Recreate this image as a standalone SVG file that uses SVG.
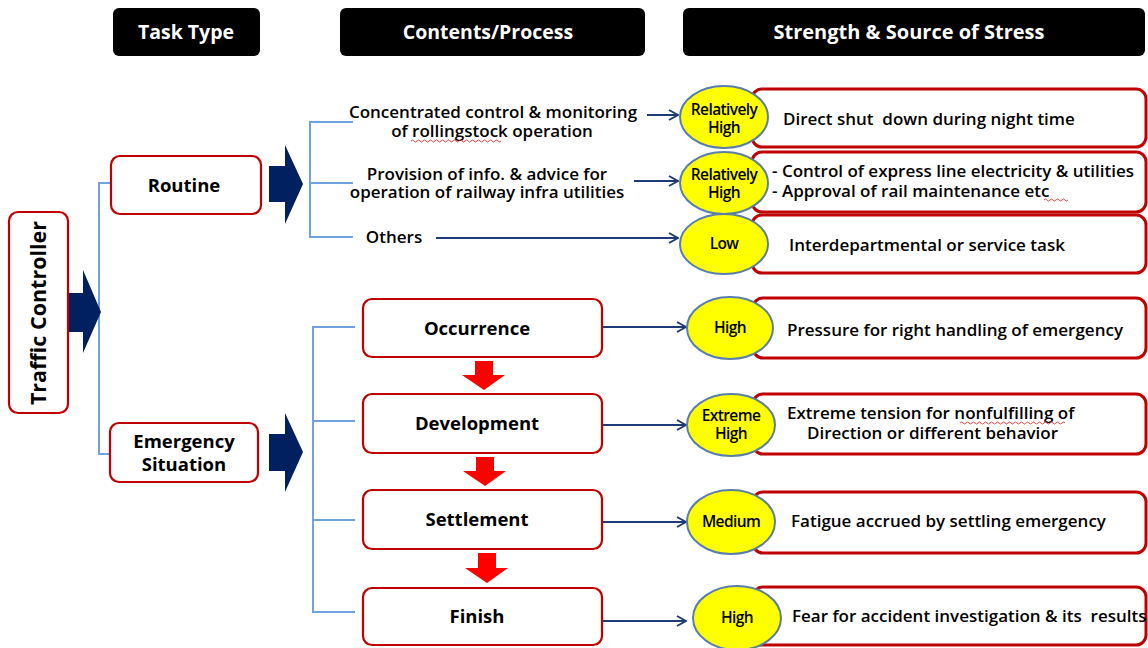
<svg xmlns="http://www.w3.org/2000/svg" width="1148" height="648" viewBox="0 0 1148 648">
  <style>
    text { white-space: pre; }
    .hdr { fill: #000; }
    .hdrtxt { font-family: "Open Sans", "Liberation Sans", sans-serif; font-weight: 700; font-size: 19.5px; fill: #fff; text-anchor: middle; }
    .box { fill: #fff; stroke: #c00000; stroke-width: 2.2; }
    .sbox { fill: #fff; stroke: #c00000; stroke-width: 3; }
    .t { font-family: "Open Sans", "Liberation Sans", sans-serif; font-weight: 600; font-size: 17px; fill: #000; }
    .tb { font-family: "Open Sans", "Liberation Sans", sans-serif; font-weight: 700; font-size: 18.5px; fill: #000; text-anchor: middle; }
    .vt { font-size: 21.5px; }
    .c { text-anchor: middle; }
    .ell { fill: #ffff00; stroke: #5a7ea8; stroke-width: 2; }
    .et { font-family: "Open Sans", "Liberation Sans", sans-serif; font-weight: 600; font-size: 15.5px; fill: #000; text-anchor: middle; letter-spacing: -0.6px; }
    .br { fill: none; stroke: #6fa3dc; stroke-width: 2; }
    .ln { fill: none; stroke: #1f3a78; stroke-width: 2; marker-end: url(#chev); }
    .navy { fill: #002060; }
    .red { fill: #ff0000; }
    .wave { fill: none; stroke: #e03030; stroke-width: 0.9; }
  </style>
  <defs>
    <marker id="chev" viewBox="0 0 12 12" refX="11" refY="6" markerWidth="12" markerHeight="12" markerUnits="userSpaceOnUse" orient="auto">
      <path d="M2,1 L11,6 L2,11" fill="none" stroke="#1f3a78" stroke-width="2"/>
    </marker>
  </defs>
  <rect width="1148" height="648" fill="#fff"/>

  <!-- column headers -->
  <g id="header-task-type">
    <rect class="hdr" x="113" y="8" width="147" height="48" rx="6"/>
    <text class="hdrtxt" x="186" y="39">Task Type</text>
  </g>
  <g id="header-contents">
    <rect class="hdr" x="340" y="8" width="305" height="48" rx="6"/>
    <text class="hdrtxt" x="488" y="39">Contents/Process</text>
  </g>
  <g id="header-stress">
    <rect class="hdr" x="683" y="8" width="462" height="48" rx="6"/>
    <text class="hdrtxt" x="909" y="39" style="font-size:20px">Strength &amp; Source of Stress</text>
  </g>

  <!-- connectors -->
  <g id="connectors">
    <path class="br" d="M111,183 H99 V454 H110"/>
    <path class="br" d="M353,122 H310 V237 H353 M310,183 H353"/>
    <path class="br" d="M355,327 H313 V612 H355 M313,421 H355 M313,520 H355"/>
    <polygon class="navy" points="67,293 83,293 83,270 101,312 83,353 83,332 67,332"/>
    <polygon class="navy" points="269,166 285,166 285,145 303,184 285,224 285,202 269,202"/>
    <polygon class="navy" points="269,434 285,434 285,413 303,452 285,492 285,471 269,471"/>
    <polygon class="red" points="475,361 493,361 493,375 505,375 484,390 462,375 475,375"/>
    <polygon class="red" points="476,457 494,457 494,471 506,471 485,486 463,471 476,471"/>
    <polygon class="red" points="478,553 496,553 496,568 508,568 487,583 465,568 478,568"/>
    <line class="ln" x1="647" y1="115" x2="678" y2="115"/>
    <line class="ln" x1="634" y1="181" x2="678" y2="181"/>
    <line class="ln" x1="436" y1="238" x2="678" y2="238"/>
    <line class="ln" x1="592" y1="327" x2="686" y2="327"/>
    <line class="ln" x1="589" y1="425" x2="686" y2="425"/>
    <line class="ln" x1="592" y1="522" x2="686" y2="522"/>
    <line class="ln" x1="589" y1="621" x2="686" y2="621"/>
  </g>

  <!-- task types -->
  <g id="traffic-controller">
    <rect class="box" x="9" y="212" width="59" height="201" rx="9"/>
    <text class="tb vt" transform="translate(46,313) rotate(-90)">Traffic Controller</text>
  </g>
  <g id="routine">
    <rect class="box" x="111" y="156" width="150" height="58" rx="9"/>
    <text class="tb" x="184" y="192">Routine</text>
  </g>
  <g id="emergency">
    <rect class="box" x="110" y="423" width="148" height="59" rx="9"/>
    <text class="tb" x="184" y="448">Emergency</text>
    <text class="tb" x="184" y="471">Situation</text>
  </g>

  <!-- routine contents -->
  <g id="routine-contents">
    <text class="t c" x="493" y="118">Concentrated control &amp; monitoring</text>
    <text class="t c" x="492" y="137">of rollingstock operation</text>
    <path class="wave" d="M411,141 q1.5,-2 3,0 t3,0 t3,0 t3,0 t3,0 t3,0 t3,0 t3,0 t3,0 t3,0 t3,0 t3,0 t3,0 t3,0 t3,0 t3,0 t3,0 t3,0 t3,0 t3,0 t3,0 t3,0 t3,0 t3,0 t3,0 t3,0 t3,0 t3,0 t3,0 t3,0"/>
    <text class="t c" x="487" y="180">Provision of info. &amp; advice for</text>
    <text class="t c" x="487" y="198">operation of railway infra utilities</text>
    <text class="t c" x="394" y="243">Others</text>
  </g>

  <!-- emergency process steps -->
  <g id="occurrence">
    <rect class="box" x="363" y="299" width="239" height="58" rx="9"/>
    <text class="tb" x="477" y="335">Occurrence</text>
  </g>
  <g id="development">
    <rect class="box" x="363" y="394" width="239" height="59" rx="9"/>
    <text class="tb" x="477" y="430">Development</text>
  </g>
  <g id="settlement">
    <rect class="box" x="363" y="490" width="239" height="59" rx="9"/>
    <text class="tb" x="477" y="526">Settlement</text>
  </g>
  <g id="finish">
    <rect class="box" x="363" y="588" width="239" height="57" rx="9"/>
    <text class="tb" x="477" y="623">Finish</text>
  </g>

  <!-- stress sources -->
  <g id="stress-1">
    <rect class="sbox" x="752" y="89" width="394" height="58" rx="10"/>
    <text class="t" x="783" y="125">Direct shut  down during night time</text>
    <ellipse class="ell" cx="724" cy="117" rx="44" ry="31"/>
    <text class="et" x="724" y="115">Relatively</text>
    <text class="et" x="724" y="133">High</text>
  </g>
  <g id="stress-2">
    <rect class="sbox" x="752" y="152" width="394" height="60" rx="10"/>
    <text class="t" x="772" y="177">- Control of express line electricity &amp; utilities</text>
    <text class="t" x="772" y="197">- Approval of rail maintenance etc</text>
    <path class="wave" d="M1044,200 q1.5,-2 3,0 t3,0 t3,0 t3,0 t3,0 t3,0 t3,0 t3,0"/>
    <ellipse class="ell" cx="724" cy="183" rx="44" ry="31"/>
    <text class="et" x="724" y="180">Relatively</text>
    <text class="et" x="724" y="198">High</text>
  </g>
  <g id="stress-3">
    <rect class="sbox" x="752" y="215" width="394" height="58" rx="10"/>
    <text class="t" x="789" y="251">Interdepartmental or service task</text>
    <ellipse class="ell" cx="724" cy="244" rx="44" ry="30"/>
    <text class="et" x="724" y="249">Low</text>
  </g>
  <g id="stress-4">
    <rect class="sbox" x="753" y="298" width="393" height="60" rx="10"/>
    <text class="t" x="787" y="336">Pressure for right handling of emergency</text>
    <ellipse class="ell" cx="730" cy="328" rx="43" ry="31"/>
    <text class="et" x="730" y="333">High</text>
  </g>
  <g id="stress-5">
    <rect class="sbox" x="753" y="394" width="393" height="60" rx="10"/>
    <text class="t" x="787" y="419">Extreme tension for nonfulfilling of</text>
    <path class="wave" d="M960,423 q1.5,-2 3,0 t3,0 t3,0 t3,0 t3,0 t3,0 t3,0 t3,0 t3,0 t3,0 t3,0 t3,0 t3,0 t3,0 t3,0 t3,0 t3,0 t3,0 t3,0 t3,0 t3,0 t3,0 t3,0 t3,0 t3,0 t3,0 t3,0 t3,0 t3,0 t3,0 t3,0 t3,0 t3,0 t3,0 t3,0"/>
    <text class="t" x="807" y="439">Direction or different behavior</text>
    <ellipse class="ell" cx="731" cy="425" rx="44" ry="31"/>
    <text class="et" x="731" y="421">Extreme</text>
    <text class="et" x="731" y="439">High</text>
  </g>
  <g id="stress-6">
    <rect class="sbox" x="753" y="492" width="393" height="61" rx="10"/>
    <text class="t" x="791" y="527">Fatigue accrued by settling emergency</text>
    <ellipse class="ell" cx="731" cy="522" rx="44" ry="32"/>
    <text class="et" x="731" y="527">Medium</text>
  </g>
  <g id="stress-7">
    <rect class="sbox" x="753" y="587" width="393" height="58" rx="10"/>
    <text class="t" x="792" y="622">Fear for accident investigation &amp; its  results</text>
    <ellipse class="ell" cx="737" cy="618" rx="44" ry="32"/>
    <text class="et" x="737" y="623">High</text>
  </g>
</svg>
